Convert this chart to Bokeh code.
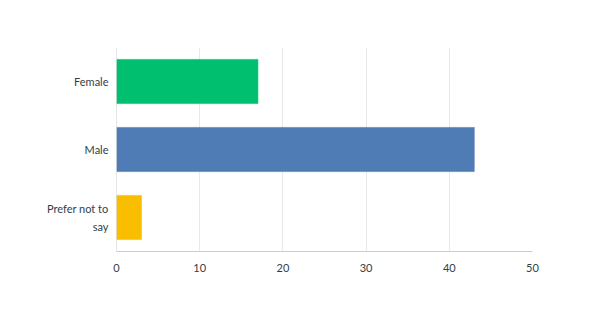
from bokeh.plotting import figure
from bokeh.models import FactorRange, Range1d, FixedTicker, Span
from bokeh.core.properties import value
from bokeh.embed import file_html
from bokeh.resources import INLINE

categories = ["Female", "Male", "Prefer not to say"]
labels = ["Female", "Male", "Prefer not to\nsay"]
values = [17, 43, 3]
colors = ["#00BF6F", "#507CB6", "#F9BE00"]
x_ticks = [0, 10, 20, 30, 40, 50]

p = figure(width=602, height=315, output_backend="svg", toolbar_location=None,
           y_range=FactorRange(factors=list(reversed(categories))),
           x_range=Range1d(0, 50),
           min_border_left=116, min_border_right=70, min_border_top=47, min_border_bottom=64)
p.outline_line_color = None
p.hbar(y=categories, right=values, left=0, height=0.65, fill_color=colors, line_color=colors, line_alpha=0.6)

t = p.text(x=[0] * len(categories), y=categories, text=labels, x_offset=-8,
           text_align="right", text_baseline="middle", text_font=value("Lato"),
           text_font_size="11px", text_color="#333E48", text_line_height=1.35)
t.level = "overlay"

p.add_layout(Span(location=0, dimension="height", line_color="#CCCCCC", line_width=1))

p.xaxis.ticker = FixedTicker(ticks=x_ticks)
p.xgrid.ticker = FixedTicker(ticks=x_ticks)
p.xgrid.grid_line_color = "#E8E8E8"
p.ygrid.grid_line_color = None

p.xaxis.axis_line_color = "#CCCCCC"
p.xaxis.major_tick_line_color = None
p.xaxis.minor_tick_line_color = None
p.xaxis.major_label_text_font = "Lato"
p.xaxis.major_label_text_font_size = "11px"
p.xaxis.major_label_text_color = "#333E48"
p.xaxis.major_label_standoff = 6
p.yaxis.visible = False

open("out.html", "w").write(file_html(p, INLINE))
